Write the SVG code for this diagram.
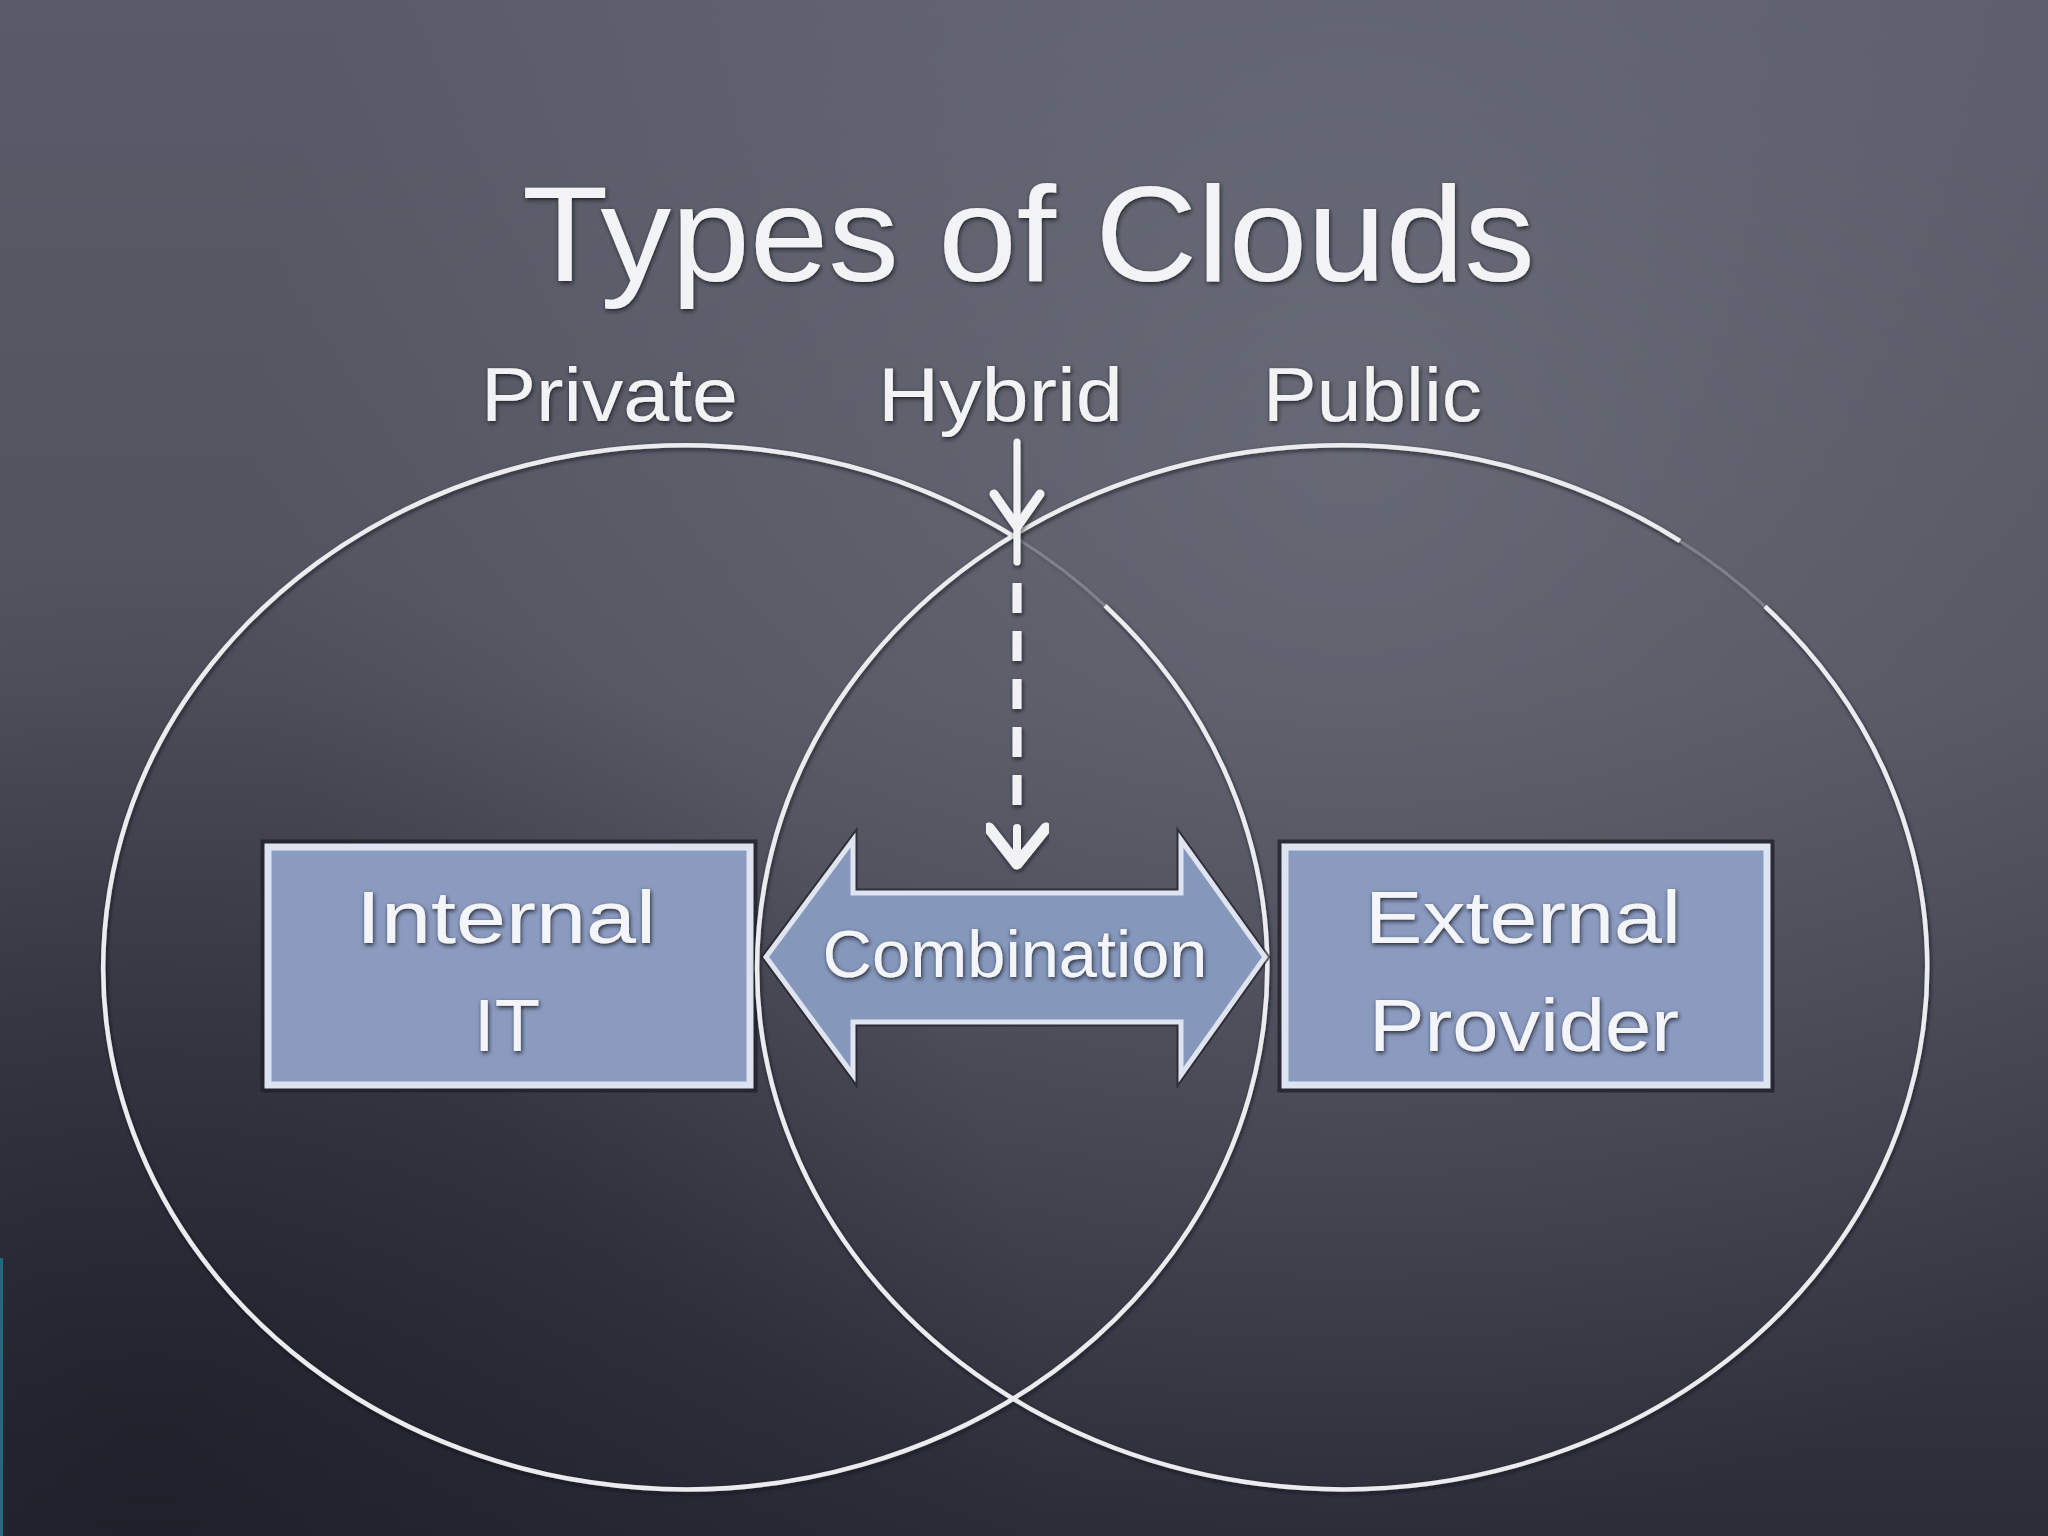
<svg xmlns="http://www.w3.org/2000/svg" width="2048" height="1536" viewBox="0 0 2048 1536">
<defs>
<linearGradient id="bg" x1="0" y1="0" x2="0" y2="1">
<stop offset="0" stop-color="#595c68"/>
<stop offset="0.45" stop-color="#50525e"/>
<stop offset="1" stop-color="#2b2c38"/>
</linearGradient>
<radialGradient id="glow" cx="1350" cy="450" r="1100" gradientUnits="userSpaceOnUse">
<stop offset="0" stop-color="#8a8d9a" stop-opacity="0.35"/>
<stop offset="1" stop-color="#8a8d9a" stop-opacity="0"/>
</radialGradient>
<radialGradient id="dark" cx="150" cy="1450" r="900" gradientUnits="userSpaceOnUse">
<stop offset="0" stop-color="#15151f" stop-opacity="0.55"/>
<stop offset="1" stop-color="#15151f" stop-opacity="0"/>
</radialGradient>
<filter id="halo" x="-10%" y="-10%" width="120%" height="130%">
<feDropShadow dx="1" dy="2" stdDeviation="2" flood-color="#15151c" flood-opacity="0.85"/>
</filter>
<filter id="lineHalo" x="-5%" y="-5%" width="110%" height="110%">
<feDropShadow dx="1" dy="2" stdDeviation="2" flood-color="#15151c" flood-opacity="0.7"/>
</filter>
<style>
.chalk{fill:#f3f3f5;font-family:"Liberation Sans","DejaVu Sans",sans-serif;filter:url(#halo)}
.title{font-size:136px}
.label{font-size:76px}
.boxtxt{fill:#f4f5f9;font-family:"Liberation Sans","DejaVu Sans",sans-serif;font-size:74px;text-anchor:middle;filter:url(#halo)}
.ring{fill:none;stroke:#ececf0;stroke-width:4.5}
.faint{fill:none;stroke:#d8d9e0;stroke-width:3;stroke-opacity:0.25}
.box{fill:#8b9bc0;stroke:#dde3f0;stroke-width:7}
.boxshadow{fill:none;stroke:#20212b;stroke-width:5;stroke-opacity:0.8}
.conn{fill:none;stroke:#f2f2f5;stroke-linecap:round;stroke-linejoin:round}
</style>
</defs>

<rect x="0" y="0" width="2048" height="1536" fill="url(#bg)"/>
<rect x="0" y="0" width="2048" height="1536" fill="url(#glow)"/>
<rect x="0" y="0" width="2048" height="1536" fill="url(#dark)"/>
<rect x="0" y="1258" width="3" height="278" fill="#1f6d7c"/>

<g id="title">
<text class="chalk title" x="522" y="281" textLength="1013" lengthAdjust="spacingAndGlyphs">Types of Clouds</text>
</g>

<g id="labels">
<text class="chalk label" x="481" y="421" textLength="257" lengthAdjust="spacingAndGlyphs">Private</text>
<text class="chalk label" x="878" y="421" textLength="245" lengthAdjust="spacingAndGlyphs">Hybrid</text>
<text class="chalk label" x="1263" y="421" textLength="219" lengthAdjust="spacingAndGlyphs">Public</text>
</g>

<g id="node-internal">
<rect class="boxshadow" x="263" y="842" width="492" height="248"/>
<rect class="box" x="268" y="847" width="482" height="238"/>
<text class="boxtxt" x="506" y="943" textLength="300" lengthAdjust="spacingAndGlyphs">Internal</text>
<text class="boxtxt" x="507" y="1051">IT</text>
</g>

<g id="node-external">
<rect class="boxshadow" x="1280" y="842" width="492" height="248"/>
<rect class="box" x="1285" y="847" width="482" height="238"/>
<text class="boxtxt" x="1523" y="943" textLength="316" lengthAdjust="spacingAndGlyphs">External</text>
<text class="boxtxt" x="1524" y="1051" textLength="310" lengthAdjust="spacingAndGlyphs">Provider</text>
</g>

<g id="venn" filter="url(#lineHalo)">
<path id="private-cloud" class="ring" d="M 1105 605.6 A 582 522 0 1 1 1016 537.7"/>
<path class="faint" d="M 1016 537.7 A 582 522 0 0 1 1105 605.6"/>
<path id="public-cloud" class="ring" d="M 1765 606.4 A 585 522 0 1 1 1680 541"/>
<path class="faint" d="M 1680 541 A 585 522 0 0 1 1765 606.4"/>
</g>

<g id="node-combination">
<path d="M766,957 L853,840 L853,893 L1181,893 L1181,840 L1265,957 L1181,1075 L1181,1022 L853,1022 L853,1075 Z" fill="#8597bb" stroke="#20212b" stroke-width="9" stroke-opacity="0.7" stroke-linejoin="miter"/>
<path d="M766,957 L853,840 L853,893 L1181,893 L1181,840 L1265,957 L1181,1075 L1181,1022 L853,1022 L853,1075 Z" fill="#8597bb" stroke="#dfe4f0" stroke-width="5" stroke-linejoin="miter"/>
<text class="boxtxt" x="1015" y="977" font-size="66" style="font-size:66px" textLength="385" lengthAdjust="spacingAndGlyphs">Combination</text>
</g>

<g id="connectors" filter="url(#lineHalo)">
<line class="conn" x1="1017" y1="442" x2="1017" y2="562" stroke-width="7"/>
<polyline class="conn" points="994,494 1017,527 1040,494" stroke-width="9"/>
<line class="conn" x1="1017" y1="583" x2="1017" y2="810" stroke-width="9" stroke-dasharray="30 18" style="stroke-linecap:butt"/>
<polyline class="conn" points="989,828 1017,864 1046,828" stroke-width="11"/>
<line class="conn" x1="1017" y1="828" x2="1017" y2="860" stroke-width="8"/>
</g>
</svg>
